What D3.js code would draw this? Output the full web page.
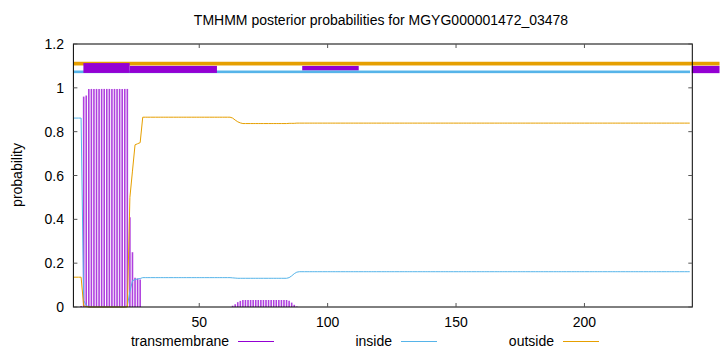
<!DOCTYPE html>
<html><head><meta charset="utf-8">
<script src="https://cdn.jsdelivr.net/npm/d3@7"></script>
<style>body{margin:0;background:#fff}svg{display:block;font-family:"Liberation Sans",Arial,sans-serif}</style>
</head><body>
<script>
const title = "TMHMM posterior probabilities for MGYG000001472_03478";
const seqLength = 241;
const xTicks = [50, 100, 150, 200];
const yTicks = [0, 0.2, 0.4, 0.6, 0.8, 1, 1.2];
const seriesNames = ["transmembrane", "inside", "outside"];
const seriesColors = ["#9400D3", "#56B4E9", "#E69F00"];

// posterior values for residues 1..241
const transmembrane = [
0,0,0,0.005,0.96,0.965,0.995,0.995,0.995,0.995,
0.995,0.995,0.995,0.995,0.995,0.995,0.995,0.995,0.995,0.995,
0.995,0.995,0.41,0.25,0.134,0.13,0.126,0,0,0,
0,0,0,0,0,0,0,0,0,0,
0,0,0,0,0,0,0,0,0,0,
0,0,0,0,0,0,0,0,0,0,
0,0,0.006,0.012,0.022,0.028,0.032,0.032,0.032,0.032,
0.032,0.032,0.032,0.032,0.032,0.032,0.032,0.032,0.032,0.032,
0.032,0.032,0.032,0.032,0.028,0.02,0.01,0.002,0,0,
0,0,0,0,0,0,0,0,0,0,
0,0,0,0,0,0,0,0,0,0,
0,0,0,0,0,0,0,0,0,0,
0,0,0,0,0,0,0,0,0,0,
0,0,0,0,0,0,0,0,0,0,
0,0,0,0,0,0,0,0,0,0,
0,0,0,0,0,0,0,0,0,0,
0,0,0,0,0,0,0,0,0,0,
0,0,0,0,0,0,0,0,0,0,
0,0,0,0,0,0,0,0,0,0,
0,0,0,0,0,0,0,0,0,0,
0,0,0,0,0,0,0,0,0,0,
0,0,0,0,0,0,0,0,0,0,
0,0,0,0,0,0,0,0,0,0,
0,0,0,0,0,0,0,0,0,0,
0];
const inside = [
0.862,0.862,0.862,0.862,0.03,0.008,0,0,0,0,
0,0,0,0,0,0,0,0,0,0,
0,0.005,0.07,0.12,0.125,0.128,0.13,0.134,0.134,0.134,
0.134,0.134,0.134,0.134,0.134,0.134,0.134,0.134,0.134,0.134,
0.134,0.134,0.134,0.134,0.134,0.134,0.134,0.134,0.134,0.134,
0.134,0.134,0.134,0.134,0.134,0.134,0.134,0.134,0.134,0.134,
0.134,0.134,0.133,0.132,0.131,0.131,0.131,0.131,0.131,0.131,
0.131,0.131,0.131,0.131,0.131,0.131,0.131,0.131,0.131,0.131,
0.131,0.131,0.131,0.131,0.134,0.142,0.152,0.159,0.161,0.161,
0.161,0.161,0.161,0.161,0.161,0.161,0.161,0.161,0.161,0.161,
0.161,0.161,0.161,0.161,0.161,0.161,0.161,0.161,0.161,0.161,
0.161,0.161,0.161,0.161,0.161,0.161,0.161,0.161,0.161,0.161,
0.161,0.161,0.161,0.161,0.161,0.161,0.161,0.161,0.161,0.161,
0.161,0.161,0.161,0.161,0.161,0.161,0.161,0.161,0.161,0.161,
0.161,0.161,0.161,0.161,0.161,0.161,0.161,0.161,0.161,0.161,
0.161,0.161,0.161,0.161,0.161,0.161,0.161,0.161,0.161,0.161,
0.161,0.161,0.161,0.161,0.161,0.161,0.161,0.161,0.161,0.161,
0.161,0.161,0.161,0.161,0.161,0.161,0.161,0.161,0.161,0.161,
0.161,0.161,0.161,0.161,0.161,0.161,0.161,0.161,0.161,0.161,
0.161,0.161,0.161,0.161,0.161,0.161,0.161,0.161,0.161,0.161,
0.161,0.161,0.161,0.161,0.161,0.161,0.161,0.161,0.161,0.161,
0.161,0.161,0.161,0.161,0.161,0.161,0.161,0.161,0.161,0.161,
0.161,0.161,0.161,0.161,0.161,0.161,0.161,0.161,0.161,0.161,
0.161,0.161,0.161,0.161,0.161,0.161,0.161,0.161,0.161,0.161,
0.161];
const outside = [
0.136,0.136,0.136,0.136,0.005,0.002,0,0,0,0,
0,0,0,0,0,0,0,0,0,0,
0,0,0.5,0.62,0.74,0.745,0.75,0.866,0.866,0.866,
0.866,0.866,0.866,0.866,0.866,0.866,0.866,0.866,0.866,0.866,
0.866,0.866,0.866,0.866,0.866,0.866,0.866,0.866,0.866,0.866,
0.866,0.866,0.866,0.866,0.866,0.866,0.866,0.866,0.866,0.866,
0.866,0.866,0.862,0.853,0.845,0.84,0.837,0.837,0.837,0.837,
0.837,0.837,0.837,0.837,0.837,0.837,0.837,0.837,0.837,0.837,
0.837,0.837,0.837,0.837,0.838,0.838,0.838,0.839,0.839,0.839,
0.839,0.839,0.839,0.839,0.839,0.839,0.839,0.839,0.839,0.839,
0.839,0.839,0.839,0.839,0.839,0.839,0.839,0.839,0.839,0.839,
0.839,0.839,0.839,0.839,0.839,0.839,0.839,0.839,0.839,0.839,
0.839,0.839,0.839,0.839,0.839,0.839,0.839,0.839,0.839,0.839,
0.839,0.839,0.839,0.839,0.839,0.839,0.839,0.839,0.839,0.839,
0.839,0.839,0.839,0.839,0.839,0.839,0.839,0.839,0.839,0.839,
0.839,0.839,0.839,0.839,0.839,0.839,0.839,0.839,0.839,0.839,
0.839,0.839,0.839,0.839,0.839,0.839,0.839,0.839,0.839,0.839,
0.839,0.839,0.839,0.839,0.839,0.839,0.839,0.839,0.839,0.839,
0.839,0.839,0.839,0.839,0.839,0.839,0.839,0.839,0.839,0.839,
0.839,0.839,0.839,0.839,0.839,0.839,0.839,0.839,0.839,0.839,
0.839,0.839,0.839,0.839,0.839,0.839,0.839,0.839,0.839,0.839,
0.839,0.839,0.839,0.839,0.839,0.839,0.839,0.839,0.839,0.839,
0.839,0.839,0.839,0.839,0.839,0.839,0.839,0.839,0.839,0.839,
0.839,0.839,0.839,0.839,0.839,0.839,0.839,0.839,0.839,0.839,
0.839];

// topology bars above the plot: [start, end, yLow, yHigh] in residue / probability units
const outsideBars = [[1, 252.6, 1.102, 1.119]];
const insideBars = [[1, 241.1, 1.067, 1.079]];
const tmBarsBehind = [[90.1, 112.1, 1.079, 1.100]];
const tmBarsFront = [[4.9, 22.9, 1.068, 1.113], [22.9, 56.9, 1.068, 1.100], [241.8, 252.6, 1.067, 1.100]];

const W = 720, H = 352;
const svg = d3.select("body").append("svg").attr("width", W).attr("height", H);
const x = d3.scaleLinear().domain([1, 242]).range([73.4, 692.3]);
const y = d3.scaleLinear().domain([0, 1.2]).range([307, 44]);
const positions = transmembrane.map((d, i) => i + 1);

// title
svg.append("text").attr("x", 381).attr("y", 25).attr("text-anchor", "middle")
  .attr("font-size", 14).attr("fill", "#000").text(title);

// y label
svg.append("text").attr("transform", "translate(22,175) rotate(-90)").attr("text-anchor", "middle")
  .attr("font-size", 14).text("probability");

// impulses
const tmPts = positions.map((p, i) => ({p, v: transmembrane[i]})).filter(d => d.v > 0);
svg.append("g").selectAll("line").data(tmPts).join("line")
  .attr("x1", d => x(d.p)).attr("x2", d => x(d.p))
  .attr("y1", y(0)).attr("y2", d => y(d.v))
  .attr("stroke", seriesColors[0]).attr("stroke-width", 1.6).attr("stroke-opacity", 0.75);

const line = d3.line().x(d => x(d.p)).y(d => y(d.v));
svg.append("path").datum(positions.map((p, i) => ({p, v: inside[i]})))
  .attr("d", line).attr("fill", "none").attr("stroke", seriesColors[1]).attr("stroke-width", 1);
svg.append("path").datum(positions.map((p, i) => ({p, v: outside[i]})))
  .attr("d", line).attr("fill", "none").attr("stroke", seriesColors[2]).attr("stroke-width", 1);

// topology bars
function bars(data, color) {
  svg.append("g").selectAll("rect").data(data).join("rect")
    .attr("x", d => x(d[0])).attr("width", d => x(d[1]) - x(d[0]))
    .attr("y", d => y(d[3])).attr("height", d => y(d[2]) - y(d[3]))
    .attr("fill", color);
}
bars(tmBarsBehind, seriesColors[0]);
bars(insideBars, seriesColors[1]);
bars(outsideBars, seriesColors[2]);
bars(tmBarsFront, seriesColors[0]);

// axes frame
const gAx = svg.append("g");
gAx.append("rect").attr("x", x(1)).attr("y", y(1.2)).attr("width", x(242) - x(1)).attr("height", y(0) - y(1.2))
  .attr("fill", "none").attr("stroke", "#000").attr("stroke-width", 1);
const tl = 4;
xTicks.forEach(t => {
  gAx.append("line").attr("x1", x(t)).attr("x2", x(t)).attr("y1", y(0)).attr("y2", y(0) - tl).attr("stroke", "#555");
  gAx.append("line").attr("x1", x(t)).attr("x2", x(t)).attr("y1", y(1.2)).attr("y2", y(1.2) + tl).attr("stroke", "#555");
  gAx.append("text").attr("x", x(t)).attr("y", 327).attr("text-anchor", "middle").attr("font-size", 14).text(t);
});
yTicks.forEach(t => {
  gAx.append("line").attr("x1", x(1)).attr("x2", x(1) + tl).attr("y1", y(t)).attr("y2", y(t)).attr("stroke", "#555");
  gAx.append("line").attr("x1", x(242)).attr("x2", x(242) - tl).attr("y1", y(t)).attr("y2", y(t)).attr("stroke", "#555");
  gAx.append("text").attr("x", 64).attr("y", y(t) + 5).attr("text-anchor", "end").attr("font-size", 14).text(d3.format("~g")(t));
});

// legend
const legendTextX = [229, 392, 554];
seriesNames.forEach((n, i) => {
  svg.append("text").attr("x", legendTextX[i]).attr("y", 346).attr("text-anchor", "end").attr("font-size", 14).text(n);
  svg.append("line").attr("x1", legendTextX[i] + 9).attr("x2", legendTextX[i] + 45).attr("y1", 341.5).attr("y2", 341.5)
    .attr("stroke", seriesColors[i]).attr("stroke-width", 1);
});
</script>
</body></html>
